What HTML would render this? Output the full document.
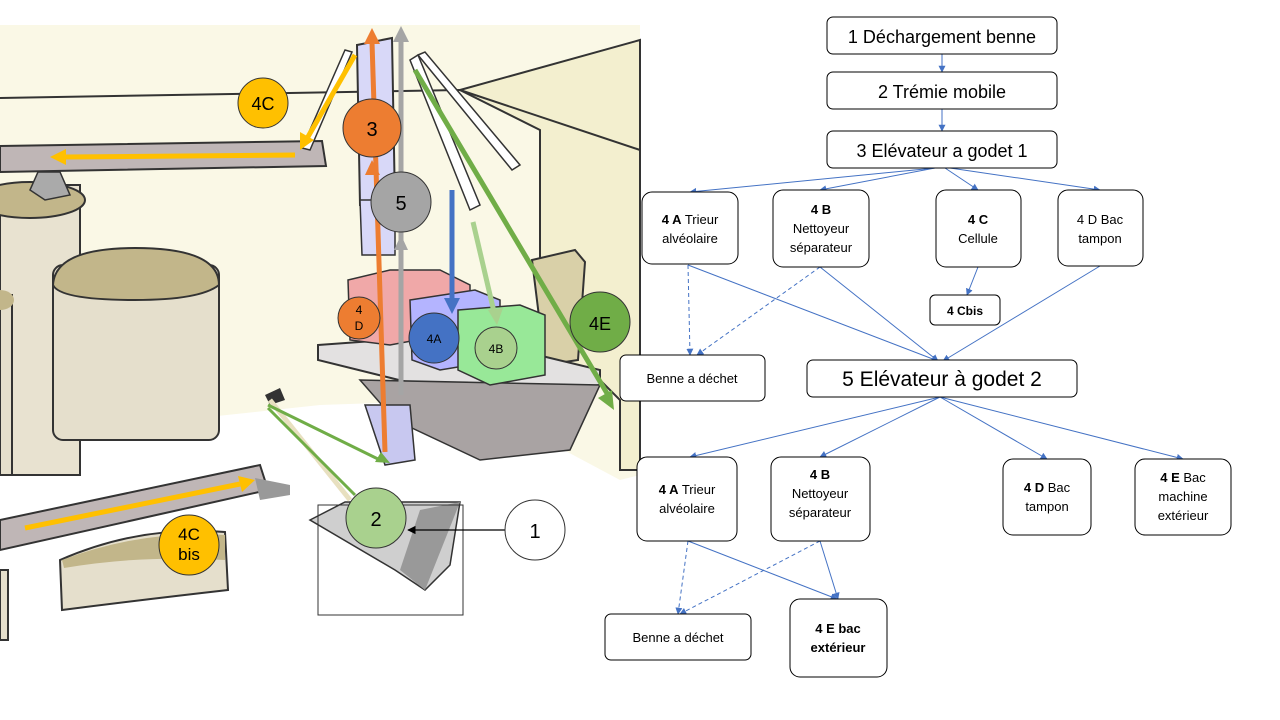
<!DOCTYPE html>
<html><head><meta charset="utf-8"><style>
body{margin:0;background:#fff}
svg{display:block}
text{font-family:"Liberation Sans",sans-serif}
</style></head><body>
<svg width="1280" height="720" viewBox="0 0 1280 720" xmlns="http://www.w3.org/2000/svg">
<defs>
<marker id="ab" viewBox="0 0 10 10" refX="9" refY="5" markerWidth="7" markerHeight="7" orient="auto"><path d="M0,0L10,5L0,10z" fill="#4472c4"/></marker>
<marker id="ak" viewBox="0 0 10 10" refX="9" refY="5" markerWidth="7" markerHeight="7" orient="auto"><path d="M0,0L10,5L0,10z" fill="#000"/></marker>
</defs>
<polygon points="0,25 640,25 640,475 620,480 470,400 320,405 180,420 0,440" fill="#faf8e6"/>
<polygon points="460,90 640,40 640,470 620,470 620,400 600,380 540,380 540,130" fill="#f3efcf" stroke="#333" stroke-width="2"/>
<line x1="0" y1="98" x2="460" y2="90" stroke="#333" stroke-width="2"/>
<line x1="460" y1="90" x2="640" y2="150" stroke="#333" stroke-width="2"/>
<rect x="0" y="185" width="80" height="290" fill="#e8e2d0" stroke="#333" stroke-width="2"/>
<ellipse cx="30" cy="200" rx="55" ry="18" fill="#c2b68a" stroke="#333" stroke-width="2"/>
<rect x="53" y="265" width="166" height="175" rx="10" fill="#e5dfcc" stroke="#333" stroke-width="2"/>
<path d="M53,285 Q55,248 135,248 Q219,248 219,285 Q200,300 135,300 Q60,300 53,285z" fill="#c2b68a" stroke="#333" stroke-width="2"/>
<rect x="0" y="295" width="12" height="180" fill="#e5dfcc" stroke="#333" stroke-width="2"/>
<ellipse cx="0" cy="300" rx="14" ry="10" fill="#c2b68a"/>
<path d="M60,560 Q140,525 225,532 L228,590 Q140,600 62,610z" fill="#e5dfcc" stroke="#333" stroke-width="2"/>
<path d="M62,560 Q140,530 225,535 L225,560 Q140,555 64,568z" fill="#c2b68a"/>
<rect x="0" y="570" width="8" height="70" fill="#e5dfcc" stroke="#333" stroke-width="2"/>
<polygon points="0,146 322,141 326,166 0,172" fill="#bfb6b6" stroke="#333" stroke-width="2"/>
<polygon points="38,172 60,172 70,195 45,200 30,190" fill="#aaa" stroke="#333" stroke-width="1.5"/>
<polygon points="0,520 260,465 268,490 0,550" fill="#bfb6b6" stroke="#333" stroke-width="2"/>
<polygon points="255,478 290,485 290,495 260,500" fill="#999"/>
<polygon points="345,50 352,52 310,150 302,148" fill="#fff" stroke="#333" stroke-width="1.5"/>
<polygon points="357,45 392,38 395,205 360,205" fill="#d8d8f8" stroke="#333" stroke-width="2"/>
<polygon points="360,200 395,200 395,255 362,255" fill="#d8d8f8" stroke="#333" stroke-width="1.5"/>
<polygon points="410,60 418,55 480,205 470,210" fill="#fff" stroke="#333" stroke-width="1.5"/>
<polygon points="418,55 425,52 520,165 512,170" fill="#fff" stroke="#333" stroke-width="1.5"/>
<polygon points="532,260 575,250 585,262 578,360 545,365" fill="#d9d0a8" stroke="#333" stroke-width="2"/>
<polygon points="318,345 455,335 600,370 600,385 480,400 318,360" fill="#e3e1e1" stroke="#333" stroke-width="2"/>
<polygon points="360,380 600,385 570,450 480,460 395,420" fill="#a9a3a3" stroke="#333" stroke-width="1.5"/>
<polygon points="348,280 390,270 440,270 470,285 470,330 390,345 350,340" fill="#f0a8a8" stroke="#333" stroke-width="1.5"/>
<polygon points="410,300 475,290 500,300 500,360 440,370 412,360" fill="#b4b4ff" stroke="#333" stroke-width="1.5"/>
<polygon points="458,310 520,305 545,315 545,375 490,385 458,370" fill="#98e898" stroke="#333" stroke-width="1.5"/>
<polygon points="365,405 410,405 415,460 385,465" fill="#c8c8f0" stroke="#333" stroke-width="1.5"/>
<polygon points="310,520 345,502 460,502 450,565 425,590 395,570" fill="#cfcfcf" stroke="#333" stroke-width="1.5"/>
<polygon points="420,510 460,502 425,590 400,570" fill="#999"/>
<rect x="318" y="505" width="145" height="110" fill="none" stroke="#333" stroke-width="1"/>
<polygon points="265,395 280,388 285,400 270,405" fill="#333"/>
<line x1="270" y1="400" x2="350" y2="500" stroke="#e8e0c0" stroke-width="5"/>
<g stroke-width="5" fill="none">
<line x1="385" y1="452" x2="372" y2="42" stroke="#ed7d31"/>
<line x1="401" y1="395" x2="401" y2="40" stroke="#a5a5a5"/>
<line x1="355" y1="55" x2="305" y2="142" stroke="#ffc000"/>
<line x1="295" y1="155" x2="65" y2="157" stroke="#ffc000"/>
<line x1="415" y1="70" x2="608" y2="395" stroke="#70ad47"/>
<line x1="452" y1="190" x2="452" y2="300" stroke="#4472c4"/>
<line x1="473" y1="222" x2="494" y2="312" stroke="#a9d18e"/>
<line x1="268" y1="405" x2="380" y2="460" stroke="#70ad47" stroke-width="3"/>
<line x1="268" y1="408" x2="355" y2="495" stroke="#70ad47" stroke-width="3"/>
<line x1="25" y1="528" x2="240" y2="484" stroke="#ffc000"/>
</g>
<g>
<polygon points="372,28 364,44 380,44" fill="#ed7d31"/>
<polygon points="372,160 365,175 380,175" fill="#ed7d31"/>
<polygon points="401,26 393,42 409,42" fill="#a5a5a5"/>
<polygon points="401,235 394,250 408,250" fill="#a5a5a5"/>
<polygon points="300,150 300,132 314,140" fill="#ffc000"/>
<polygon points="50,157 66,149 66,165" fill="#ffc000"/>
<polygon points="614,410 598,398 612,390" fill="#70ad47"/>
<polygon points="452,314 444,298 460,298" fill="#4472c4"/>
<polygon points="497,325 488,310 503,308" fill="#a9d18e"/>
<polygon points="255,480 238,476 242,492" fill="#ffc000"/>
<polygon points="390,463 375,462 381,452" fill="#70ad47"/>
</g>
<line x1="505" y1="530" x2="408" y2="530" stroke="#000" stroke-width="1.2" marker-end="url(#ak)"/>
<g stroke="#333" stroke-width="1">
<circle cx="263" cy="103" r="25" fill="#ffc000"/>
<circle cx="372" cy="128" r="29" fill="#ed7d31"/>
<circle cx="401" cy="202" r="30" fill="#a5a5a5"/>
<circle cx="359" cy="318" r="21" fill="#ed7d31"/>
<circle cx="434" cy="338" r="25" fill="#4472c4"/>
<circle cx="496" cy="348" r="21" fill="#a9d18e"/>
<circle cx="600" cy="322" r="30" fill="#70ad47"/>
<circle cx="376" cy="518" r="30" fill="#a9d18e"/>
<circle cx="535" cy="530" r="30" fill="#fff"/>
<circle cx="189" cy="545" r="30" fill="#ffc000"/>
</g>
<g text-anchor="middle" fill="#000">
<text x="263" y="110" font-size="18">4C</text>
<text x="372" y="136" font-size="20">3</text>
<text x="401" y="210" font-size="20">5</text>
<text x="359" y="314" font-size="12">4</text>
<text x="359" y="330" font-size="12">D</text>
<text x="434" y="343" font-size="12">4A</text>
<text x="496" y="353" font-size="12">4B</text>
<text x="600" y="330" font-size="18">4E</text>
<text x="376" y="526" font-size="20">2</text>
<text x="535" y="538" font-size="20">1</text>
<text x="189" y="540" font-size="17">4C</text>
<text x="189" y="560" font-size="17">bis</text>
</g>
<g stroke="#4472c4" stroke-width="1" fill="none" marker-end="url(#ab)">
<line x1="942" y1="54" x2="942" y2="72"/>
<line x1="942" y1="109" x2="942" y2="131"/>
<line x1="935" y1="168" x2="690" y2="192"/>
<line x1="935" y1="168" x2="820" y2="190"/>
<line x1="945" y1="168" x2="978" y2="190"/>
<line x1="950" y1="168" x2="1100" y2="190"/>
<line x1="688" y1="265" x2="690" y2="355" stroke-dasharray="4,3"/>
<line x1="820" y1="267" x2="697" y2="355" stroke-dasharray="4,3"/>
<line x1="688" y1="265" x2="938" y2="361"/>
<line x1="820" y1="267" x2="938" y2="361"/>
<line x1="978" y1="267" x2="967" y2="295"/>
<line x1="1100" y1="266" x2="943" y2="361"/>
<line x1="940" y1="397" x2="690" y2="457"/>
<line x1="940" y1="397" x2="820" y2="457"/>
<line x1="940" y1="397" x2="1047" y2="459"/>
<line x1="940" y1="397" x2="1183" y2="459"/>
<line x1="688" y1="541" x2="678" y2="614" stroke-dasharray="4,3"/>
<line x1="820" y1="541" x2="680" y2="614" stroke-dasharray="4,3"/>
<line x1="688" y1="541" x2="837" y2="599"/>
<line x1="820" y1="541" x2="838" y2="599"/>
</g>
<g fill="#fff" stroke="#000" stroke-width="1">
<rect x="827" y="17" width="230" height="37" rx="6"/>
<rect x="827" y="72" width="230" height="37" rx="6"/>
<rect x="827" y="131" width="230" height="37" rx="6"/>
<rect x="642" y="192" width="96" height="72" rx="10"/>
<rect x="773" y="190" width="96" height="77" rx="10"/>
<rect x="936" y="190" width="85" height="77" rx="10"/>
<rect x="1058" y="190" width="85" height="76" rx="10"/>
<rect x="930" y="295" width="70" height="30" rx="5"/>
<rect x="620" y="355" width="145" height="46" rx="6"/>
<rect x="807" y="360" width="270" height="37" rx="6"/>
<rect x="637" y="457" width="100" height="84" rx="10"/>
<rect x="771" y="457" width="99" height="84" rx="10"/>
<rect x="1003" y="459" width="88" height="76" rx="10"/>
<rect x="1135" y="459" width="96" height="76" rx="10"/>
<rect x="605" y="614" width="146" height="46" rx="6"/>
<rect x="790" y="599" width="97" height="78" rx="10"/>
</g>
<g text-anchor="middle" fill="#000">
<text x="942" y="43" font-size="18">1 Déchargement benne</text>
<text x="942" y="98" font-size="18">2 Trémie mobile</text>
<text x="942" y="157" font-size="18">3 Elévateur a godet 1</text>
<text x="690" y="224" font-size="13"><tspan font-weight="bold">4 A</tspan> Trieur</text>
<text x="690" y="243" font-size="13">alvéolaire</text>
<text x="821" y="214" font-size="13" font-weight="bold">4 B</text>
<text x="821" y="233" font-size="13">Nettoyeur</text>
<text x="821" y="252" font-size="13">séparateur</text>
<text x="978" y="224" font-size="13" font-weight="bold">4 C</text>
<text x="978" y="243" font-size="13">Cellule</text>
<text x="1100" y="224" font-size="13">4 D Bac</text>
<text x="1100" y="243" font-size="13">tampon</text>
<text x="965" y="315" font-size="12" font-weight="bold">4 Cbis</text>
<text x="692" y="383" font-size="13">Benne a déchet</text>
<text x="942" y="386" font-size="21">5 Elévateur à godet 2</text>
<text x="687" y="494" font-size="13"><tspan font-weight="bold">4 A</tspan> Trieur</text>
<text x="687" y="513" font-size="13">alvéolaire</text>
<text x="820" y="479" font-size="13" font-weight="bold">4 B</text>
<text x="820" y="498" font-size="13">Nettoyeur</text>
<text x="820" y="517" font-size="13">séparateur</text>
<text x="1047" y="492" font-size="13"><tspan font-weight="bold">4 D</tspan> Bac</text>
<text x="1047" y="511" font-size="13">tampon</text>
<text x="1183" y="482" font-size="13"><tspan font-weight="bold">4 E</tspan> Bac</text>
<text x="1183" y="501" font-size="13">machine</text>
<text x="1183" y="520" font-size="13">extérieur</text>
<text x="678" y="642" font-size="13">Benne a déchet</text>
<text x="838" y="633" font-size="13" font-weight="bold">4 E  bac</text>
<text x="838" y="652" font-size="13" font-weight="bold">extérieur</text>
</g>
</svg>
</body></html>
